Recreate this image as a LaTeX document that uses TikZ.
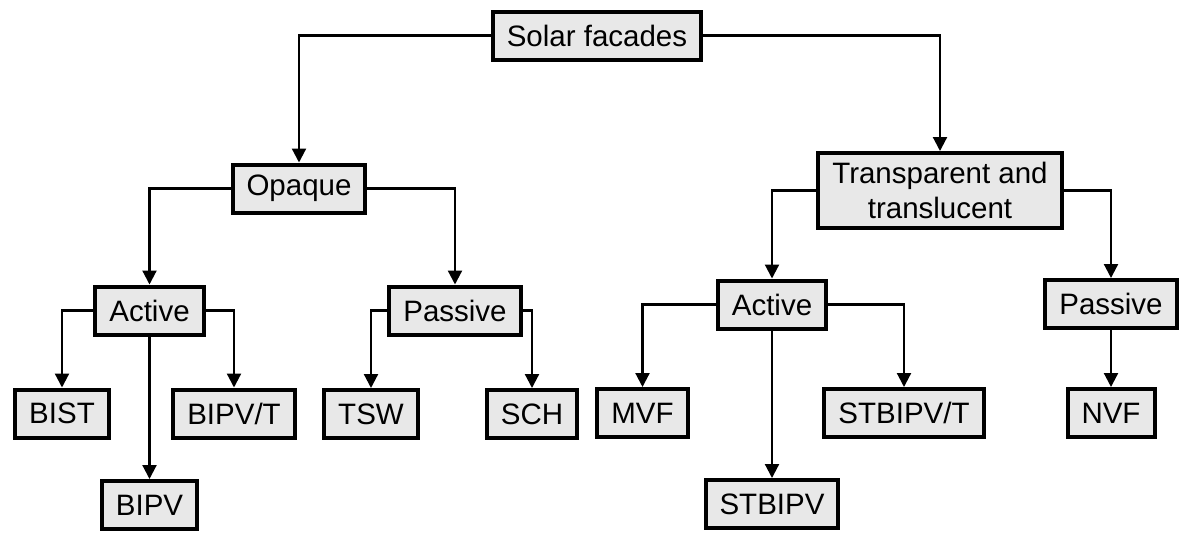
\documentclass[tikz,border=0pt]{standalone}
\usepackage{fontspec}
\setmainfont{Liberation Sans}
\usepackage{tikz}
\usetikzlibrary{arrows.meta}
\definecolor{boxgray}{HTML}{E8E8E8}
\tikzset{
    box/.style={draw, line width=4pt, fill=boxgray, inner xsep=14pt, inner ysep=0pt,
        minimum height=48pt, align=center, font=\fontsize{29.5}{35}\selectfont},
    link/.style={line width=2.2pt, -{Triangle[width=14pt, length=14pt]}}
}

\begin{document}
\begin{tikzpicture}[x=1pt, y=-1pt]
    \useasboundingbox (0, 0) rectangle (1182, 533);
    \node [box] (sf) at (597, 35.5) {Solar facades};
    \node [box] (opq) at (299, 188.5) {Opaque};
    \node [box, minimum height=75pt] (trans) at (940, 190.5) {Transparent and\\translucent};
    \node [box] (actL) at (149.5, 310.5) {Active};
    \node [box] (pasL) at (455, 310.5) {Passive};
    \node [box] (actR) at (772, 304.5) {Active};
    \node [box] (pasR) at (1111, 304) {Passive};
    \node [box] (bist) at (62, 413.5) {BIST};
    \node [box] (bipvt) at (234, 413.5) {BIPV/T};
    \node [box] (bipv) at (149.5, 505) {BIPV};
    \node [box] (tsw) at (371, 414) {TSW};
    \node [box] (sch) at (532, 414) {SCH};
    \node [box] (mvf) at (642.5, 413) {MVF};
    \node [box] (stbipvt) at (904, 413) {STBIPV/T};
    \node [box] (stbipv) at (772, 504) {STBIPV};
    \node [box] (nvf) at (1111, 413) {NVF};

    \draw [link] (sf.west) -| (opq.north);
    \draw [link] (sf.east) -| (trans.north);
    \draw [link] (opq.west) -| (actL.north);
    \draw [link] (opq.east) -| (pasL.north);
    \draw [link] (trans.west) -| (actR.north);
    \draw [link] (trans.east) -| (pasR.north);
    \draw [link] (actL.west) -| (bist.north);
    \draw [link] (actL.east) -| (bipvt.north);
    \draw [link] (actL.south) -- (bipv.north);
    \draw [link] (pasL.west) -| (tsw.north);
    \draw [link] (pasL.east) -| (sch.north);
    \draw [link] (actR.west) -| (mvf.north);
    \draw [link] (actR.east) -| (stbipvt.north);
    \draw [link] (actR.south) -- (stbipv.north);
    \draw [link] (pasR.south) -- (nvf.north);
\end{tikzpicture}
\end{document}
